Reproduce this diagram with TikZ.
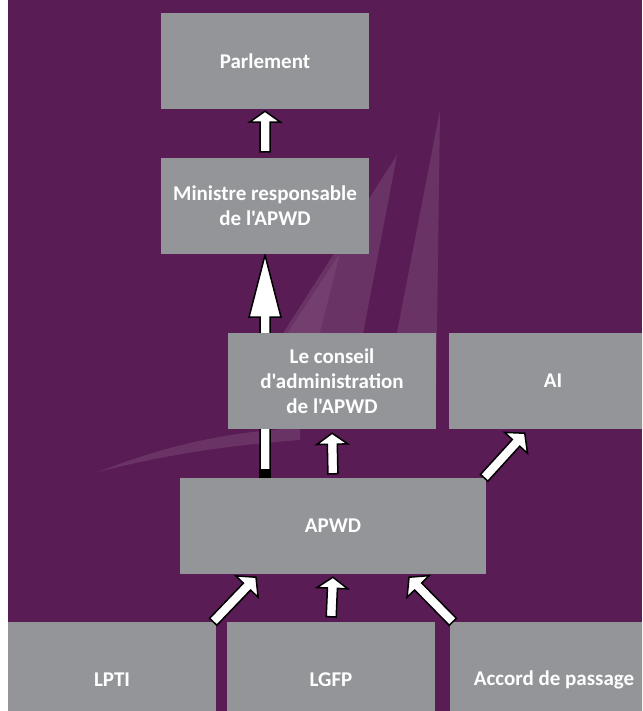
\documentclass[tikz,border=0pt]{standalone}
\usepackage{fontspec}
\newfontfamily\boitefont{Carlito}[Ligatures=TeXOff]
\usetikzlibrary{calc}
\definecolor{violetfond}{RGB}{90,28,84}
\definecolor{grisboite}{RGB}{147,149,152}
\pgfdeclarelayer{fond}
\pgfdeclarelayer{dessous}
\pgfsetlayers{fond,dessous,main}
% fleche bloc : depart, pointe, demi-tige, demi-tete, longueur tete
\newcommand{\flechebloc}[5]{%
  \draw[fleche] let \p1=(#1), \p2=(#2), \n1={atan2(\y2-\y1,\x2-\x1)},
    \n2={veclen(\x2-\x1,\y2-\y1)} in [shift={(\p1)}, rotate=\n1]
    (0,-#3) -- (\n2-#5,-#3) -- (\n2-#5,-#4) -- (\n2,0) -- (\n2-#5,#4)
    -- (\n2-#5,#3) -- (0,#3) -- cycle;}
\begin{document}
\begin{tikzpicture}[x=1pt, y=-1pt,
  boite/.style={fill=grisboite, text=white, inner sep=0pt, minimum width=208pt,
    minimum height=96pt, align=center,
    font=\boitefont\bfseries\fontsize{21}{25}\selectfont},
  fleche/.style={draw=black, fill=white, line width=1.5pt, line join=miter},
  trainee/.style={fill=white, fill opacity=0.1}]
\useasboundingbox (0,0) rectangle (642,711);
\clip (0,0) rectangle (642,711);
\node[boite] (parl) at (265,61) {Parlement};
\node[boite] (mini) at (265,206) {Ministre responsable\\de l'APWD};
\node[boite] (cons) at (332,381) {Le conseil\\d'administration\\de l'APWD};
\node[boite] (ai) at (553,381) {AI};
\node[boite, minimum width=306pt] (apwd) at (333,526) {APWD};
\node[boite, minimum height=116pt] (lpti) at (112,680) {LPTI};
\node[boite, minimum height=116pt] (lgfp) at (331,680) {LGFP};
\node[boite, minimum height=116pt] (accord) at (554,680) {Accord de passage};
\coordinate (basegrand) at (mini.south |- apwd.north);
\coordinate (aipointe) at ($(ai.south west)+(76,4)$);
\begin{pgfonlayer}{fond}
\fill[violetfond] (8,0) rectangle (642,711);
\fill[trainee] (440,110) -- (436,400) -- (384,400) -- cycle;
\fill[trainee] (397,155) -- (358,360) -- (266,360) -- cycle;
\fill[trainee, fill opacity=0.06] (340,253) -- (313,360) -- (270,360) -- cycle;
\fill[trainee] (98,472) .. controls (160,448) and (220,432) .. (300,428)
  -- (300,440) .. controls (220,446) and (160,456) .. (98,472) -- cycle;
\end{pgfonlayer}
\begin{pgfonlayer}{dessous}
\flechebloc{basegrand}{$(mini.south)+(0,1)$}{5}{16}{62}
\fill[black] ($(basegrand)+(-6,0)$) rectangle ++(12,-9);
\end{pgfonlayer}
\flechebloc{$(mini.north)!6pt!(parl.south)$}{$(parl.south)!2pt!(mini.north)$}{5}{15.5}{11}
\flechebloc{$(apwd.north)!4pt!(cons.south)$}{$(cons.south)!4pt!(apwd.north)$}{5}{15.5}{11}
\flechebloc{$(apwd.north east)+(-2,0)$}{aipointe}{5}{15.5}{13}
\flechebloc{$(lpti.north east)+(-3,0)$}{$(apwd.south)+(-77,3)$}{5}{15.5}{13}
\flechebloc{$(lgfp.north)!5pt!(apwd.south)$}{$(apwd.south)!3pt!(lgfp.north)$}{5}{15.5}{11}
\flechebloc{$(accord.north west)+(3,0)$}{$(apwd.south)+(76,3)$}{5}{15.5}{13}
\end{tikzpicture}
\end{document}
